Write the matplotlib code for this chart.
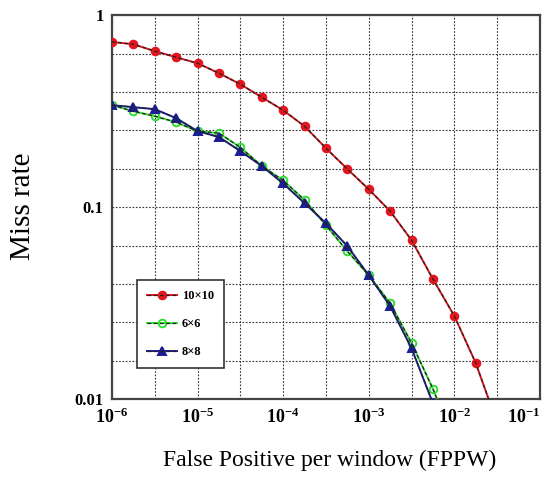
import numpy as np
import matplotlib
matplotlib.use("Agg")
import matplotlib.pyplot as plt
from matplotlib.legend_handler import HandlerTuple

# FPPW exponents (log10) and miss rates
red_exp = [-6, -5.75, -5.5, -5.25, -5, -4.75, -4.5, -4.25, -4, -3.75,
           -3.5, -3.25, -3, -2.75, -2.5, -2.25, -2, -1.75, -1.5]
red_miss = [0.726, 0.706, 0.65, 0.604, 0.562, 0.499, 0.437, 0.374, 0.320, 0.264,
            0.203, 0.158, 0.124, 0.0953, 0.0673, 0.0422, 0.0271, 0.0154, 0.0075]

green_exp = [-6, -5.75, -5.5, -5.25, -5, -4.75, -4.5, -4.25, -4, -3.75,
             -3.5, -3.25, -3, -2.75, -2.5, -2.25, -2]
green_miss = [0.340, 0.316, 0.298, 0.277, 0.249, 0.243, 0.205, 0.164, 0.138, 0.109,
              0.0805, 0.059, 0.0442, 0.0316, 0.0196, 0.0113, 0.006]

blue_exp = [-6, -5.75, -5.5, -5.25, -5, -4.75, -4.5, -4.25, -4, -3.75,
            -3.5, -3.25, -3, -2.75, -2.5, -2.25]
blue_miss = [0.340, 0.332, 0.324, 0.291, 0.249, 0.232, 0.196, 0.164, 0.133, 0.105,
             0.0825, 0.0627, 0.0442, 0.0305, 0.0184, 0.0095]

labels = ["10×10", "6×6", "8×8"]
x_ticks = [1e-6, 1e-5, 1e-4, 1e-3, 1e-2, 1e-1]
x_ticklabels = [r"$\mathbf{10^{-6}}$", r"$\mathbf{10^{-5}}$", r"$\mathbf{10^{-4}}$",
                r"$\mathbf{10^{-3}}$", r"$\mathbf{10^{-2}}$", r"$\mathbf{10^{-1}}$"]
y_ticks = [0.01, 0.1, 1]
y_ticklabels = ["0.01", "0.1", "1"]

plt.rcParams['font.family'] = ['Liberation Serif', 'DejaVu Serif']
plt.rcParams['mathtext.fontset'] = 'custom'
plt.rcParams['mathtext.bf'] = 'Liberation Serif:bold'
plt.rcParams['mathtext.rm'] = 'Liberation Serif'

fig = plt.figure(figsize=(5.46, 4.91), dpi=100)
ax = fig.add_axes([0.205, 0.187, 0.784, 0.782])

handles = []
for exps, miss, col, mk, mfc in [
        (red_exp, red_miss, '#e3161d', 'o', '#e3161d'),
        (green_exp, green_miss, '#33dd33', 'o', 'none'),
        (blue_exp, blue_miss, '#1c1c96', '^', '#1c1c96')]:
    x = 10.0 ** np.array(exps)
    h1, = ax.plot(x, miss, color=col, lw=1.4, marker=mk, ms=5.5,
                  mfc=mfc, mec=col, mew=1.4, zorder=3)
    h2, = ax.plot(x, miss, color='#222222', lw=0.9, ls=(0, (3, 2)), zorder=4)
    handles.append((h1, h2))

ax.set_xscale('log')
ax.set_yscale('log')
ax.set_xlim(1e-6, 1e-1)
ax.set_ylim(0.01, 1)

ax.set_xticks(x_ticks)
ax.set_xticklabels(x_ticklabels, fontsize=13)
ax.get_xticklabels()[-1].set_horizontalalignment('right')
ax.set_yticks(y_ticks)
ax.set_yticklabels(y_ticklabels, fontsize=12, fontweight='bold')
ax.set_xticks([10.0 ** (k + 0.5) for k in range(-6, -1)], minor=True)
ax.set_yticks([10.0 ** (-0.2 * k) for k in range(1, 10) if k != 5], minor=True)
ax.tick_params(which='both', length=0, pad=6)
ax.grid(True, which='both', color='#333333', ls=(0, (1.5, 1.5)), lw=0.8)

for s in ax.spines.values():
    s.set_color('#444444')
    s.set_linewidth(1.6)

leg = ax.legend(handles, labels, handler_map={tuple: HandlerTuple(ndivide=1)},
                loc='lower left', bbox_to_anchor=(0.058, 0.08), borderaxespad=0,
                prop={'weight': 'bold', 'size': 9}, fancybox=False,
                edgecolor='#333333', framealpha=1, labelspacing=1.3,
                handlelength=2.4, handletextpad=0.4, borderpad=0.8)
leg.get_frame().set_linewidth(1.2)

fig.text(0.042, 0.58, "Miss rate", rotation=90, ha='center', va='center', fontsize=21)
fig.text(0.604, 0.063, "False Positive per window (FPPW)", ha='center', va='center',
         fontsize=17)

fig.savefig("out.png", dpi=100)
